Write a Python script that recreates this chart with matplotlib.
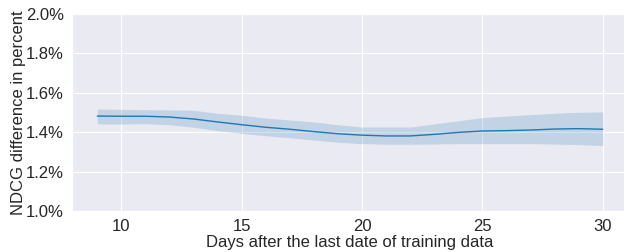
import matplotlib
matplotlib.use("Agg")
import matplotlib.pyplot as plt
import seaborn as sns
from matplotlib.ticker import FuncFormatter

days = list(range(9, 31))
mean = [1.482, 1.481, 1.481, 1.477, 1.467, 1.452, 1.438, 1.425, 1.415, 1.403, 1.392,
        1.385, 1.381, 1.381, 1.389, 1.399, 1.406, 1.408, 1.411, 1.416, 1.418, 1.415]
upper = [1.518, 1.516, 1.514, 1.513, 1.511, 1.496, 1.486, 1.472, 1.462, 1.452, 1.438,
         1.426, 1.426, 1.426, 1.442, 1.458, 1.474, 1.482, 1.489, 1.496, 1.501, 1.503]
lower = [1.442, 1.442, 1.443, 1.438, 1.425, 1.408, 1.394, 1.382, 1.372, 1.360, 1.349,
         1.342, 1.339, 1.339, 1.340, 1.342, 1.342, 1.342, 1.342, 1.340, 1.337, 1.332]
xticks = [10, 15, 20, 25, 30]
yticks = [1.0, 1.2, 1.4, 1.6, 1.8, 2.0]

sns.set_style("darkgrid")
plt.rcParams['font.family'] = ['Liberation Sans', 'DejaVu Sans']

fig = plt.figure(figsize=(6.24, 2.52), dpi=100)
ax = fig.add_axes([72/624, 41/252, (628-72)/624, 197/252])
color = "#1f77b4"
ax.fill_between(days, lower, upper, color=color, alpha=0.2, linewidth=0)
ax.plot(days, mean, color=color, linewidth=1.0)
ax.set_xlim(7.95, 31.05)
ax.set_ylim(1.0, 2.0)
ax.set_xticks(xticks)
ax.set_yticks(yticks)
ax.yaxis.set_major_formatter(FuncFormatter(lambda v, p: f"{v:.1f}%"))
ax.tick_params(labelsize=12, colors="#262626", pad=2.5)
ax.set_xlabel("Days after the last date of training data", fontsize=12, color="#262626", labelpad=0.5)
ax.set_ylabel("NDCG difference in percent", fontsize=12, color="#262626", labelpad=0)
fig.savefig("out.png", dpi=100)
